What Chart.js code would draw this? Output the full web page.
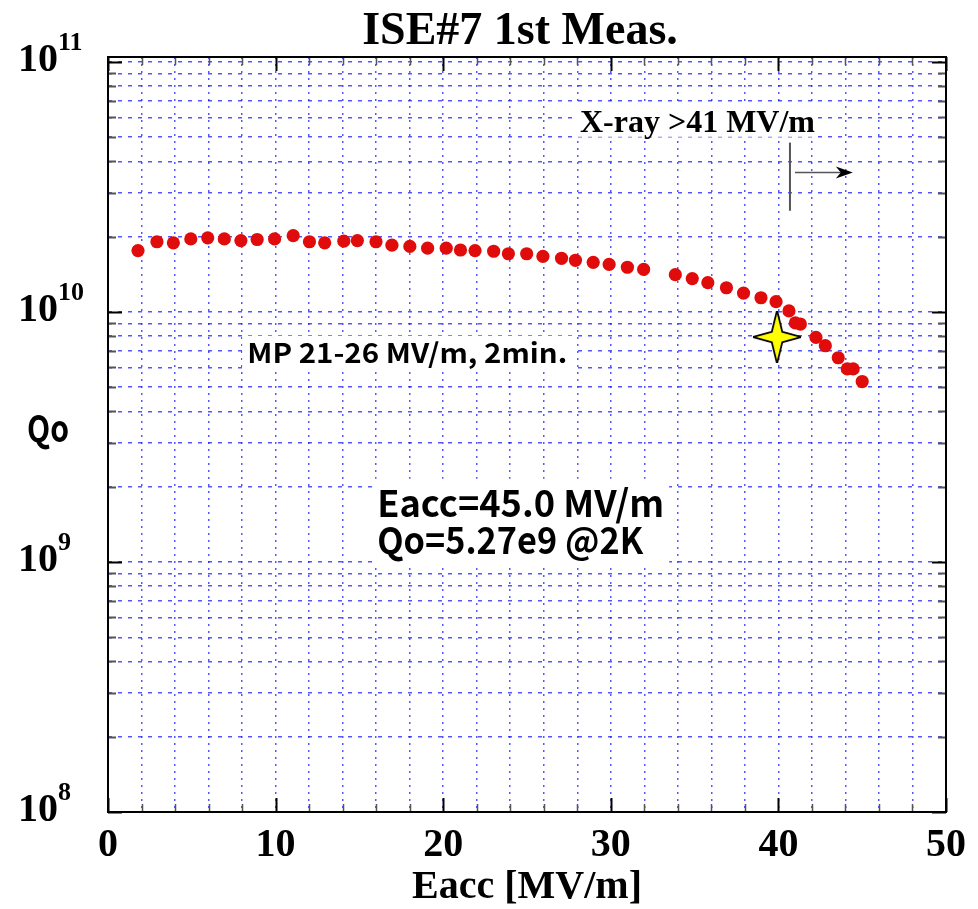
<!DOCTYPE html>
<html>
<head>
<meta charset="utf-8">
<script src="https://cdn.jsdelivr.net/npm/chart.js@4.4.1/dist/chart.umd.min.js"></script>
<style>
html,body{margin:0;padding:0;background:#fff;}
#c{display:block;}
</style>
</head>
<body>
<canvas id="c" width="978" height="909"></canvas>
<script>
// ---- data ----
const eacc = [1.79,2.92,3.90,4.94,5.95,6.94,7.93,8.90,9.94,11.05,12.02,12.93,14.07,14.88,15.99,16.94,18.01,19.07,20.18,21.03,21.90,23.01,23.89,24.98,25.95,27.06,27.89,28.95,29.90,30.99,31.96,33.85,34.86,35.79,36.90,37.92,38.96,39.86,40.63,41.01,41.31,42.24,42.80,43.57,44.11,44.46,45.0];
const qo = [1.76e10,1.91e10,1.89e10,1.96e10,1.98e10,1.96e10,1.93e10,1.95e10,1.96e10,2.02e10,1.91e10,1.89e10,1.92e10,1.93e10,1.91e10,1.85e10,1.83e10,1.80e10,1.80e10,1.77e10,1.76e10,1.75e10,1.71e10,1.71e10,1.67e10,1.64e10,1.61e10,1.58e10,1.55e10,1.51e10,1.48e10,1.41e10,1.36e10,1.31e10,1.25e10,1.19e10,1.14e10,1.10e10,1.01e10,9.04e9,8.95e9,7.91e9,7.33e9,6.56e9,5.92e9,5.92e9,5.27e9];
const starEacc = [39.92];
const starQo = [7.94e9];

const xTicks = [0,2,4,6,8,10,12,14,16,18,20,22,24,26,28,30,32,34,36,38,40,42,44,46,48,50];
const xTickLabels = ['0','10','20','30','40','50'];
const yDecades = [1e8,1e9,1e10,1e11];
const yDecadeExps = ['8','9','10','11'];
const yMinorMult = [2,3,4,5,6,7,8,9];

const titleText = 'ISE#7 1st Meas.';
const xTitle = 'Eacc [MV/m]';
const yTitle = 'Qo';
const xrayText = 'X-ray >41 MV/m';
const xrayEacc = 40.69;
const mpText = 'MP 21-26 MV/m, 2min.';
const resultLines = ['Eacc=45.0 MV/m', 'Qo=5.27e9 @2K'];

// ---- build tick table ----
const yTickValues = [];
yDecades.forEach((d, i) => {
  yTickValues.push(d);
  if (i < yDecades.length - 1) yMinorMult.forEach(m => yTickValues.push(d * m));
});

// ---- star point style ----
function makeStar() {
  const c = document.createElement('canvas');
  c.width = 48; c.height = 52;
  const g = c.getContext('2d');
  const cx = 24, cy = 26, rx = 21, ry = 23, ri = 4.5;
  g.beginPath();
  g.moveTo(cx, cy - ry);
  g.lineTo(cx + ri, cy - ri);
  g.lineTo(cx + rx, cy);
  g.lineTo(cx + ri, cy + ri);
  g.lineTo(cx, cy + ry);
  g.lineTo(cx - ri, cy + ri);
  g.lineTo(cx - rx, cy);
  g.lineTo(cx - ri, cy - ri);
  g.closePath();
  g.lineJoin = 'miter';
  g.lineWidth = 3.5;
  g.strokeStyle = '#000';
  g.stroke();
  g.fillStyle = '#ffff00';
  g.fill();
  return c;
}
const starImg = makeStar();

const SERIF = '"Liberation Serif","Times New Roman",serif';
const GOTHIC = '"Noto Sans CJK JP","Noto Sans",sans-serif';
const GRID_BLUE = 'rgba(30,30,255,0.75)';

function gothicText(ctx, text, x, yc, size, targetW) {
  ctx.save();
  ctx.font = 'bold ' + size + 'px ' + GOTHIC;
  const w = ctx.measureText(text).width;
  ctx.translate(x, yc);
  ctx.scale(targetW / w, 1);
  ctx.textBaseline = 'middle';
  ctx.textAlign = 'left';
  ctx.fillStyle = '#000';
  ctx.fillText(text, 0, 0);
  ctx.restore();
}

const deco = {
  id: 'deco',
  beforeDatasetsDraw(chart) {
    const ctx = chart.ctx;
    const xs = chart.scales.x, ys = chart.scales.y;
    ctx.save();
    // X-ray label with white box
    {
      const x0 = xs.getPixelForValue(28.16), yc = ys.getPixelForValue(5.82e10);
      ctx.font = 'bold 32px ' + SERIF;
      const w = ctx.measureText(xrayText).width;
      ctx.fillStyle = '#fff';
      ctx.fillRect(x0 - 3, yc - 15, w + 6, 31);
      ctx.fillStyle = '#000';
      ctx.textBaseline = 'alphabetic';
      ctx.fillText(xrayText, x0, yc + 11);
    }
    // MP label
    {
      const x0 = xs.getPixelForValue(8.31), yc = ys.getPixelForValue(6.87e9);
      ctx.fillStyle = '#fff';
      ctx.fillRect(x0 - 5, yc - 17, 330, 34);
      gothicText(ctx, mpText, x0, yc, 27, 320);
    }
    // result box
    {
      const x0 = xs.getPixelForValue(16.06);
      const y1 = ys.getPixelForValue(1.726e9), y2 = ys.getPixelForValue(1.227e9);
      ctx.fillStyle = '#fff';
      ctx.fillRect(x0 - 3, y1 - 24, 295, (y2 - y1) + 48);
      gothicText(ctx, resultLines[0], x0, y1, 37, 287);
      gothicText(ctx, resultLines[1], x0, y2, 37, 266);
    }
    // X-ray onset marker and arrow
    {
      const xv = xs.getPixelForValue(xrayEacc);
      ctx.strokeStyle = '#555';
      ctx.lineWidth = 2;
      ctx.beginPath();
      ctx.moveTo(xv, ys.getPixelForValue(4.76e10));
      ctx.lineTo(xv, ys.getPixelForValue(2.54e10));
      ctx.stroke();
      const ay = ys.getPixelForValue(3.61e10);
      const ax0 = xs.getPixelForValue(40.99), ax1 = xs.getPixelForValue(44.44);
      ctx.lineWidth = 1.5;
      ctx.beginPath();
      ctx.moveTo(ax0, ay); ctx.lineTo(ax1 - 10, ay);
      ctx.stroke();
      ctx.fillStyle = '#000';
      ctx.beginPath();
      ctx.moveTo(ax1, ay);
      ctx.lineTo(ax1 - 17, ay - 6);
      ctx.lineTo(ax1 - 12, ay);
      ctx.lineTo(ax1 - 17, ay + 6);
      ctx.closePath();
      ctx.fill();
    }
    ctx.restore();
  },
  afterDraw(chart) {
    const ctx = chart.ctx;
    const a = chart.chartArea;
    const xs = chart.scales.x, ys = chart.scales.y;
    ctx.save();
    // inward ticks
    ctx.lineCap = 'butt';
    yTickValues.forEach(v => {
      const y = Math.round(ys.getPixelForValue(v)) + 0.5;
      const major = yDecades.includes(v);
      const len = major ? 14 : 8;
      ctx.strokeStyle = major ? '#000' : '#555';
      ctx.lineWidth = 2;
      ctx.beginPath();
      ctx.moveTo(a.left, y); ctx.lineTo(a.left + len, y);
      ctx.moveTo(a.right, y); ctx.lineTo(a.right - len, y);
      ctx.stroke();
    });
    xTicks.forEach(v => {
      const x = Math.round(xs.getPixelForValue(v)) + 0.5;
      const major = v % 10 === 0;
      const len = major ? 14 : 8;
      ctx.strokeStyle = major ? '#000' : '#555';
      ctx.lineWidth = major ? 2 : 1.5;
      ctx.beginPath();
      ctx.moveTo(x, a.bottom); ctx.lineTo(x, a.bottom - len);
      ctx.moveTo(x, a.top); ctx.lineTo(x, a.top + len);
      ctx.stroke();
    });
    // frame
    ctx.strokeStyle = '#000';
    ctx.lineWidth = 2;
    ctx.strokeRect(a.left, a.top, a.right - a.left, a.bottom - a.top);

    // y tick labels 10^n
    ctx.fillStyle = '#000';
    yDecades.forEach((v, i) => {
      const y = ys.getPixelForValue(v);
      ctx.font = 'bold 40px ' + SERIF;
      ctx.textAlign = 'right';
      ctx.textBaseline = 'alphabetic';
      ctx.fillText('10', 58, y + 9);
      ctx.font = 'bold 26px ' + SERIF;
      ctx.textAlign = 'left';
      ctx.fillText(yDecadeExps[i], 58, y - 12);
    });
    // x tick labels
    ctx.font = 'bold 40px ' + SERIF;
    ctx.textAlign = 'center';
    xTickLabels.forEach(t => {
      const x = xs.getPixelForValue(parseFloat(t));
      ctx.fillText(t, x, a.bottom + 44);
    });
    // axis titles
    ctx.fillText(xTitle, (a.left + a.right) / 2, a.bottom + 86);
    ctx.font = 'bold 46px ' + SERIF;
    ctx.fillText(titleText, 520, 44);
    ctx.restore();
    // y title
    gothicText(ctx, yTitle, 27, 428, 37, 42);
  }
};

new Chart(document.getElementById('c'), {
  type: 'scatter',
  data: {
    datasets: [
      {
        data: eacc.map((x, i) => ({x: x, y: qo[i]})),
        pointRadius: 6.6,
        pointHoverRadius: 6.6,
        backgroundColor: '#e00c0c',
        borderColor: '#e00c0c',
        borderWidth: 0,
        showLine: false
      },
      {
        data: starEacc.map((x, i) => ({x: x, y: starQo[i]})),
        pointStyle: starImg,
        pointRadius: 24,
        showLine: false
      }
    ]
  },
  options: {
    responsive: false,
    animation: false,
    devicePixelRatio: 1,
    layout: {padding: {left: 108, right: 32, top: 57, bottom: 97}},
    plugins: {legend: {display: false}, tooltip: {enabled: false}, title: {display: false}},
    events: [],
    scales: {
      x: {
        type: 'linear', min: 0, max: 50,
        afterBuildTicks: s => { s.ticks = xTicks.map(v => ({value: v})); },
        afterFit: s => { s.height = 0; },
        ticks: {display: false},
        grid: {color: GRID_BLUE, lineWidth: 1.5, drawTicks: false},
        border: {display: false, dash: [2, 5]}
      },
      y: {
        type: 'logarithmic', min: 1e8, max: 1.047e11,
        afterBuildTicks: s => { s.ticks = yTickValues.map(v => ({value: v})); },
        afterFit: s => { s.width = 0; },
        ticks: {display: false},
        grid: {color: GRID_BLUE, lineWidth: 1.5, drawTicks: false},
        border: {display: false, dash: [4, 6]}
      }
    }
  },
  plugins: [deco]
});
</script>
</body>
</html>
